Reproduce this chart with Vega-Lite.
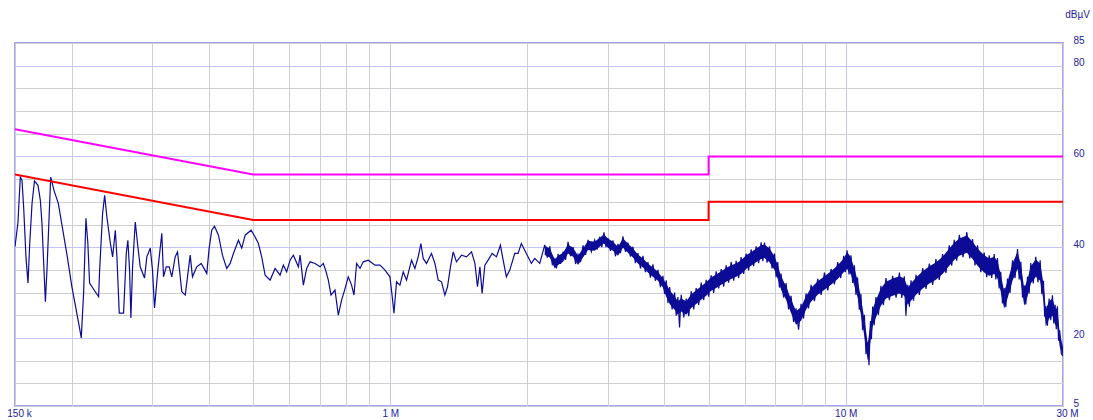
{
"$schema": "https://vega.github.io/schema/vega-lite/v6.json",
"width": 1048, "height": 363,
"autosize": {"type": "none"},
"padding": {"left": 15, "top": 43, "right": 30, "bottom": 14},
"background": "white",
"config": {"view": {"stroke": "#a0a0f8", "strokeWidth": 2}, "font": "Liberation Sans"},
"datasets": {
"limits": [
{"lim":"QP","i":1,"f":0.15,"v":66},{"lim":"QP","i":2,"f":0.5,"v":56},{"lim":"QP","i":3,"f":5,"v":56},{"lim":"QP","i":4,"f":5,"v":60},{"lim":"QP","i":5,"f":30,"v":60},
{"lim":"AV","i":1,"f":0.15,"v":56},{"lim":"AV","i":2,"f":0.5,"v":46},{"lim":"AV","i":3,"f":5,"v":46},{"lim":"AV","i":4,"f":5,"v":50},{"lim":"AV","i":5,"f":30,"v":50}
],
"band": [
{"f":2.184,"lo":38.3,"hi":40.3},{"f":2.24,"lo":37.7,"hi":39.7},{"f":2.298,"lo":35.3,"hi":37.3},{"f":2.336,"lo":36.1,"hi":38.1},{"f":2.396,"lo":36.8,"hi":38.8},{"f":2.457,"lo":38.6,"hi":40.6},{"f":2.52,"lo":37.9,"hi":39.9},{"f":2.584,"lo":36.1,"hi":38.1},{"f":2.65,"lo":37.7,"hi":39.7},{"f":2.718,"lo":39.4,"hi":41.4},
{"f":2.811,"lo":39.2,"hi":41.2},{"f":2.883,"lo":40.1,"hi":42.1},{"f":2.946,"lo":40.8,"hi":42.8},{"f":3.006,"lo":39.9,"hi":41.9},{"f":3.083,"lo":39.2,"hi":41.2},{"f":3.162,"lo":38.1,"hi":40.1},{"f":3.243,"lo":39.9,"hi":41.9},{"f":3.326,"lo":38.8,"hi":40.8},{"f":3.411,"lo":37.7,"hi":39.7},{"f":3.498,"lo":36.4,"hi":38.4},
{"f":3.588,"lo":35.5,"hi":37.5},{"f":3.679,"lo":34.4,"hi":36.4},{"f":3.773,"lo":33.5,"hi":35.5},{"f":3.87,"lo":32.6,"hi":34.6},{"f":3.969,"lo":31.1,"hi":33.1},{"f":4.036,"lo":29.1,"hi":32.0},{"f":4.106,"lo":27.5,"hi":30.5},{"f":4.211,"lo":26.2,"hi":29.2},{"f":4.281,"lo":25.1,"hi":28.1},{"f":4.353,"lo":25.8,"hi":28.7},
{"f":4.466,"lo":25.1,"hi":28.1},{"f":4.579,"lo":26.6,"hi":29.6},{"f":4.696,"lo":27.5,"hi":30.5},{"f":4.816,"lo":28.4,"hi":31.4},{"f":4.94,"lo":29.3,"hi":32.3},{"f":5.066,"lo":30.4,"hi":33.4},{"f":5.195,"lo":31.0,"hi":34.0},{"f":5.328,"lo":31.7,"hi":34.7},{"f":5.464,"lo":32.4,"hi":35.4},{"f":5.604,"lo":33.0,"hi":36.0},
{"f":5.747,"lo":33.5,"hi":36.4},{"f":5.893,"lo":34.1,"hi":37.1},{"f":6.044,"lo":35.2,"hi":38.2},{"f":6.199,"lo":35.9,"hi":38.9},{"f":6.358,"lo":36.7,"hi":39.7},{"f":6.521,"lo":37.4,"hi":40.4},{"f":6.634,"lo":37.6,"hi":40.6},{"f":6.803,"lo":36.7,"hi":39.7},{"f":6.977,"lo":35.0,"hi":38.0},{"f":7.093,"lo":33.0,"hi":36.0},
{"f":7.213,"lo":30.6,"hi":33.6},{"f":7.397,"lo":28.4,"hi":31.4},{"f":7.586,"lo":25.5,"hi":28.5},{"f":7.78,"lo":22.9,"hi":25.9},{"f":7.98,"lo":23.8,"hi":26.8},{"f":8.183,"lo":26.2,"hi":29.2},{"f":8.393,"lo":28.0,"hi":31.0},{"f":8.682,"lo":29.5,"hi":32.5},{"f":8.981,"lo":30.6,"hi":33.6},{"f":9.286,"lo":31.7,"hi":34.7},
{"f":9.605,"lo":33.0,"hi":36.0},{"f":9.901,"lo":34.5,"hi":37.5},{"f":10.07,"lo":35.2,"hi":39.0},{"f":10.27,"lo":33.9,"hi":37.7},{"f":10.45,"lo":31.5,"hi":35.3},{"f":10.62,"lo":28.9,"hi":32.7},{"f":10.8,"lo":25.1,"hi":28.9},{"f":10.99,"lo":20.3,"hi":24.1},{"f":11.18,"lo":15.0,"hi":18.8},{"f":11.33,"lo":19.2,"hi":23.0},
{"f":11.46,"lo":22.5,"hi":26.3},{"f":11.65,"lo":24.5,"hi":28.3},{"f":11.95,"lo":27.1,"hi":30.9},{"f":12.26,"lo":28.7,"hi":32.4},{"f":12.68,"lo":29.3,"hi":33.1},{"f":13.12,"lo":29.8,"hi":33.6},{"f":13.45,"lo":29.3,"hi":33.1},{"f":13.68,"lo":27.3,"hi":31.1},{"f":13.91,"lo":28.2,"hi":32.0},{"f":14.27,"lo":29.5,"hi":33.3},
{"f":14.76,"lo":30.9,"hi":34.7},{"f":15.26,"lo":32.0,"hi":35.8},{"f":15.78,"lo":32.8,"hi":36.6},{"f":16.32,"lo":34.1,"hi":37.9},{"f":16.88,"lo":35.9,"hi":39.7},{"f":17.31,"lo":37.2,"hi":41.0},{"f":17.76,"lo":38.1,"hi":41.9},{"f":18.45,"lo":38.8,"hi":42.6},{"f":18.99,"lo":37.4,"hi":41.2},{"f":19.47,"lo":35.9,"hi":39.7},
{"f":20.14,"lo":34.4,"hi":38.2},{"f":20.66,"lo":33.7,"hi":37.5},{"f":21.19,"lo":34.1,"hi":37.9},{"f":21.54,"lo":33.1,"hi":36.9},{"f":21.9,"lo":30.2,"hi":34.0},{"f":22.28,"lo":26.5,"hi":30.3},{"f":22.66,"lo":28.7,"hi":32.4},{"f":23.24,"lo":32.6,"hi":36.4},{"f":23.84,"lo":35.2,"hi":39.0},{"f":24.24,"lo":32.4,"hi":36.2},
{"f":24.66,"lo":27.1,"hi":30.9},{"f":25.07,"lo":29.1,"hi":32.9},{"f":25.49,"lo":32.0,"hi":35.8},{"f":26.14,"lo":33.5,"hi":37.3},{"f":26.73,"lo":32.6,"hi":36.4},{"f":27.18,"lo":28.2,"hi":32.0},{"f":27.5,"lo":22.5,"hi":26.3},{"f":27.97,"lo":24.3,"hi":28.1},{"f":28.44,"lo":24.9,"hi":28.7},{"f":28.83,"lo":22.9,"hi":26.7},
{"f":29.16,"lo":22.5,"hi":26.3},{"f":29.5,"lo":18.1,"hi":21.1},{"f":30.0,"lo":16.0,"hi":18.0}
],
"trace": [
{"f":0.15,"v":40.1},{"f":0.1523,"v":45.56},{"f":0.1528,"v":48.57},{"f":0.1541,"v":55.45},{"f":0.1554,"v":54.73},{"f":0.1567,"v":48.86},{"f":0.1586,"v":37.58},{"f":0.1602,"v":32.09},{"f":0.1616,"v":40.88},{"f":0.1635,"v":49.67},
{"f":0.1655,"v":54.57},{"f":0.1685,"v":53.63},{"f":0.1705,"v":50.33},{"f":0.1719,"v":45.27},{"f":0.1749,"v":27.98},{"f":0.1763,"v":34.95},{"f":0.178,"v":45.27},{"f":0.1797,"v":55.45},{"f":0.1827,"v":52.53},{"f":0.1867,"v":49.67},
{"f":0.1905,"v":44.46},{"f":0.1954,"v":37.87},{"f":0.2,"v":31.27},{"f":0.2069,"v":23.3},{"f":0.2097,"v":20.0},{"f":0.2122,"v":29.89},{"f":0.2132,"v":36.48},{"f":0.2147,"v":46.37},{"f":0.2168,"v":40.88},{"f":0.2187,"v":32.09},
{"f":0.2289,"v":29.08},{"f":0.2301,"v":34.95},{"f":0.2336,"v":47.47},{"f":0.236,"v":51.43},{"f":0.2387,"v":46.66},{"f":0.2429,"v":40.88},{"f":0.2457,"v":37.87},{"f":0.2491,"v":43.74},{"f":0.2511,"v":37.87},{"f":0.2541,"v":25.49},
{"f":0.2597,"v":25.49},{"f":0.2633,"v":38.68},{"f":0.2654,"v":41.54},{"f":0.2677,"v":34.95},{"f":0.2695,"v":24.4},{"f":0.2718,"v":35.67},{"f":0.2755,"v":45.56},{"f":0.2792,"v":40.07},{"f":0.2825,"v":35.67},{"f":0.2887,"v":33.19},
{"f":0.2921,"v":37.87},{"f":0.2972,"v":39.78},{"f":0.3006,"v":34.95},{"f":0.3037,"v":26.59},{"f":0.3088,"v":34.95},{"f":0.3151,"v":43.08},{"f":0.3178,"v":33.47},{"f":0.3222,"v":35.67},{"f":0.3271,"v":35.67},{"f":0.3314,"v":33.47},
{"f":0.3371,"v":37.87},{"f":0.3411,"v":38.97},{"f":0.3446,"v":34.95},{"f":0.3486,"v":30.18},{"f":0.3547,"v":29.45},{"f":0.3588,"v":33.47},{"f":0.3637,"v":38.24},{"f":0.3679,"v":33.47},{"f":0.376,"v":35.67},{"f":0.3845,"v":36.42},
{"f":0.3955,"v":34.22},{"f":0.4003,"v":39.78},{"f":0.4056,"v":43.74},{"f":0.4112,"v":44.62},{"f":0.4196,"v":42.64},{"f":0.4281,"v":38.24},{"f":0.4375,"v":35.32},{"f":0.4452,"v":36.42},{"f":0.4526,"v":38.62},{"f":0.4642,"v":41.54},
{"f":0.472,"v":39.78},{"f":0.4802,"v":42.64},{"f":0.4949,"v":43.74},{"f":0.505,"v":42.26},{"f":0.5135,"v":40.81},{"f":0.5221,"v":37.87},{"f":0.5312,"v":33.85},{"f":0.5448,"v":32.75},{"f":0.5587,"v":35.32},{"f":0.5729,"v":33.85},
{"f":0.5825,"v":36.04},{"f":0.5923,"v":34.57},{"f":0.6026,"v":37.14},{"f":0.6127,"v":38.24},{"f":0.6285,"v":35.67},{"f":0.6339,"v":38.24},{"f":0.6446,"v":31.65},{"f":0.6553,"v":35.32},{"f":0.6667,"v":36.77},{"f":0.6838,"v":36.42},
{"f":0.7012,"v":35.67},{"f":0.7129,"v":36.42},{"f":0.7213,"v":34.95},{"f":0.7312,"v":32.75},{"f":0.7412,"v":29.45},{"f":0.7563,"v":30.55},{"f":0.769,"v":25.05},{"f":0.7819,"v":28.35},{"f":0.794,"v":30.55},{"f":0.8088,"v":33.47},
{"f":0.8225,"v":31.65},{"f":0.8325,"v":29.45},{"f":0.8435,"v":36.42},{"f":0.8582,"v":35.32},{"f":0.8725,"v":36.77},{"f":0.8949,"v":37.14},{"f":0.9257,"v":36.04},{"f":0.9494,"v":36.04},{"f":0.9737,"v":34.95},{"f":0.9985,"v":33.47},
{"f":1.0101,"v":29.08},{"f":1.0189,"v":25.43},{"f":1.0323,"v":32.37},{"f":1.0502,"v":31.65},{"f":1.0678,"v":34.57},{"f":1.0858,"v":32.75},{"f":1.1136,"v":37.14},{"f":1.1328,"v":35.32},{"f":1.1518,"v":37.87},{"f":1.1677,"v":40.81},
{"f":1.1812,"v":37.52},{"f":1.2011,"v":36.42},{"f":1.2318,"v":38.62},{"f":1.2534,"v":36.42},{"f":1.2744,"v":32.75},{"f":1.2958,"v":32.37},{"f":1.3182,"v":29.45},{"f":1.3357,"v":31.27},{"f":1.3559,"v":35.67},{"f":1.3746,"v":38.97},
{"f":1.3976,"v":36.77},{"f":1.4339,"v":38.24},{"f":1.4705,"v":37.87},{"f":1.5081,"v":38.97},{"f":1.5342,"v":36.42},{"f":1.5544,"v":31.27},{"f":1.5735,"v":35.67},{"f":1.5913,"v":29.82},{"f":1.6132,"v":36.04},{"f":1.6403,"v":37.14},
{"f":1.6739,"v":38.62},{"f":1.7107,"v":37.87},{"f":1.7454,"v":40.44},{"f":1.7697,"v":37.14},{"f":1.7988,"v":33.47},{"f":1.8299,"v":34.95},{"f":1.8767,"v":38.62},{"f":1.9082,"v":38.62},{"f":1.9402,"v":40.81},{"f":1.99,"v":38.62},
{"f":2.0409,"v":36.42},{"f":2.0762,"v":37.52},{"f":2.1293,"v":36.42},
{"f":2.184,"v":40.5},{"f":2.212,"v":37.7},{"f":2.24,"v":40.2},{"f":2.269,"v":36.2},{"f":2.298,"v":37.4},{"f":2.317,"v":35.3},{"f":2.336,"v":38.5},{"f":2.366,"v":36.3},{"f":2.396,"v":39.0},{"f":2.426,"v":37.2},
{"f":2.457,"v":41.2},{"f":2.488,"v":38.0},{"f":2.52,"v":40.0},{"f":2.552,"v":36.3},{"f":2.584,"v":38.4},{"f":2.617,"v":36.7},{"f":2.65,"v":40.4},{"f":2.684,"v":38.3},{"f":2.718,"v":41.6},{"f":2.764,"v":39.0},
{"f":2.811,"v":41.6},{"f":2.847,"v":39.5},{"f":2.883,"v":42.3},{"f":2.914,"v":40.0},{"f":2.946,"v":43.3},{"f":2.976,"v":40.0},{"f":3.006,"v":42.0},{"f":3.044,"v":39.2},{"f":3.083,"v":41.5},{"f":3.122,"v":38.0},
{"f":3.162,"v":40.7},{"f":3.202,"v":38.7},{"f":3.243,"v":42.4},{"f":3.284,"v":39.0},{"f":3.326,"v":41.0},{"f":3.368,"v":37.9},{"f":3.411,"v":40.1},{"f":3.454,"v":36.5},{"f":3.498,"v":38.7},{"f":3.543,"v":35.3},
{"f":3.588,"v":38.1},{"f":3.633,"v":34.5},{"f":3.679,"v":36.7},{"f":3.726,"v":33.3},{"f":3.773,"v":36.2},{"f":3.821,"v":32.6},{"f":3.87,"v":35.0},{"f":3.919,"v":31.2},{"f":3.969,"v":33.7},{"f":4.002,"v":29.7},
{"f":4.036,"v":32.7},{"f":4.071,"v":27.7},{"f":4.106,"v":31.2},{"f":4.158,"v":26.3},{"f":4.211,"v":30.0},{"f":4.246,"v":24.9},{"f":4.281,"v":29.0},{"f":4.317,"v":22.3},{"f":4.353,"v":29.5},{"f":4.41,"v":24.5},
{"f":4.466,"v":28.7},{"f":4.523,"v":24.8},{"f":4.579,"v":30.3},{"f":4.638,"v":26.3},{"f":4.696,"v":31.0},{"f":4.756,"v":27.3},{"f":4.816,"v":32.2},{"f":4.878,"v":28.3},{"f":4.94,"v":32.8},{"f":5.003,"v":29.1},
{"f":5.066,"v":33.8},{"f":5.13,"v":29.9},{"f":5.195,"v":34.7},{"f":5.262,"v":30.9},{"f":5.328,"v":35.2},{"f":5.396,"v":31.3},{"f":5.464,"v":36.0},{"f":5.534,"v":32.2},{"f":5.604,"v":36.8},{"f":5.676,"v":32.6},
{"f":5.747,"v":37.0},{"f":5.82,"v":33.2},{"f":5.893,"v":37.8},{"f":5.969,"v":34.1},{"f":6.044,"v":38.6},{"f":6.122,"v":34.9},{"f":6.199,"v":39.5},{"f":6.279,"v":35.8},{"f":6.358,"v":40.2},{"f":6.44,"v":36.5},
{"f":6.521,"v":41.1},{"f":6.578,"v":36.9},{"f":6.634,"v":41.0},{"f":6.719,"v":36.6},{"f":6.803,"v":40.2},{"f":6.89,"v":35.3},{"f":6.977,"v":38.6},{"f":7.035,"v":33.4},{"f":7.093,"v":36.7},{"f":7.153,"v":31.1},
{"f":7.213,"v":34.2},{"f":7.305,"v":28.9},{"f":7.397,"v":32.1},{"f":7.492,"v":26.3},{"f":7.586,"v":29.3},{"f":7.683,"v":23.5},{"f":7.78,"v":26.5},{"f":7.88,"v":21.8},{"f":7.98,"v":27.5},{"f":8.082,"v":24.3},
{"f":8.183,"v":29.8},{"f":8.288,"v":26.5},{"f":8.393,"v":31.7},{"f":8.538,"v":28.1},{"f":8.682,"v":33.0},{"f":8.832,"v":29.5},{"f":8.981,"v":34.4},{"f":9.134,"v":30.5},{"f":9.286,"v":35.2},{"f":9.446,"v":31.8},
{"f":9.605,"v":36.7},{"f":9.753,"v":33.2},{"f":9.901,"v":38.1},{"f":9.985,"v":34.5},{"f":10.07,"v":39.3},{"f":10.17,"v":34.0},{"f":10.27,"v":38.2},{"f":10.36,"v":32.1},{"f":10.45,"v":36.0},{"f":10.53,"v":29.5},
{"f":10.62,"v":33.3},{"f":10.71,"v":26.2},{"f":10.8,"v":29.7},{"f":10.89,"v":21.7},{"f":10.99,"v":25.1},{"f":11.08,"v":16.4},{"f":11.18,"v":19.1},{"f":11.25,"v":14.0},{"f":11.33,"v":23.7},{"f":11.39,"v":19.7},
{"f":11.46,"v":26.9},{"f":11.55,"v":22.8},{"f":11.65,"v":29.0},{"f":11.8,"v":25.1},{"f":11.95,"v":31.5},{"f":12.1,"v":27.2},{"f":12.26,"v":33.2},{"f":12.47,"v":28.3},{"f":12.68,"v":33.7},{"f":12.9,"v":28.9},
{"f":13.12,"v":34.4},{"f":13.28,"v":28.8},{"f":13.45,"v":33.6},{"f":13.56,"v":24.9},{"f":13.68,"v":31.7},{"f":13.8,"v":26.9},{"f":13.91,"v":32.7},{"f":14.09,"v":28.2},{"f":14.27,"v":33.9},{"f":14.51,"v":29.5},
{"f":14.76,"v":35.4},{"f":15.01,"v":30.8},{"f":15.26,"v":36.4},{"f":15.52,"v":31.7},{"f":15.78,"v":37.4},{"f":16.05,"v":32.8},{"f":16.32,"v":38.5},{"f":16.6,"v":34.3},{"f":16.88,"v":40.4},{"f":17.09,"v":35.9},
{"f":17.31,"v":41.6},{"f":17.53,"v":37.0},{"f":17.76,"v":42.7},{"f":18.1,"v":37.8},{"f":18.45,"v":43.3},{"f":18.72,"v":37.5},{"f":18.99,"v":41.8},{"f":19.23,"v":36.0},{"f":19.47,"v":40.4},{"f":19.8,"v":34.5},
{"f":20.14,"v":38.8},{"f":20.4,"v":33.4},{"f":20.66,"v":38.2},{"f":20.92,"v":33.2},{"f":21.19,"v":38.5},{"f":21.36,"v":32.9},{"f":21.54,"v":37.6},{"f":21.72,"v":30.9},{"f":21.9,"v":34.6},{"f":22.09,"v":27.6},
{"f":22.28,"v":31.0},{"f":22.47,"v":26.8},{"f":22.66,"v":33.1},{"f":22.95,"v":29.9},{"f":23.24,"v":37.1},{"f":23.54,"v":33.2},{"f":23.84,"v":39.6},{"f":24.04,"v":32.9},{"f":24.24,"v":36.8},{"f":24.45,"v":28.9},
{"f":24.66,"v":31.6},{"f":24.86,"v":27.4},{"f":25.07,"v":33.5},{"f":25.28,"v":29.8},{"f":25.49,"v":36.5},{"f":25.81,"v":32.0},{"f":26.14,"v":37.9},{"f":26.43,"v":32.3},{"f":26.73,"v":37.1},{"f":26.95,"v":29.7},
{"f":27.18,"v":32.6},{"f":27.34,"v":24.7},{"f":27.5,"v":27.0},{"f":27.73,"v":22.7},{"f":27.97,"v":28.7},{"f":28.2,"v":23.9},{"f":28.44,"v":29.4},{"f":28.63,"v":23.2},{"f":28.83,"v":27.3},{"f":29.0,"v":21.9},
{"f":29.16,"v":27.0},{"f":29.33,"v":19.4},{"f":29.5,"v":21.7},{"f":29.75,"v":16.5},{"f":30.0,"v":16.0}
]
},
"layer": [
{
"data": {"name": "band"},
"mark": {"type": "area", "color": "#0c0c96", "opacity": 1, "clip": true},
"encoding": {
"x": {"field": "f", "type": "quantitative", "scale": {"type": "log", "domain": [0.15, 30], "nice": false},
 "axis": {"orient": "bottom", "values": [0.15,0.2,0.3,0.4,0.5,0.6,0.7,0.8,0.9,1,2,3,4,5,6,7,8,9,10,20,30], "tickCount": 100,
  "labelExpr": "datum.value == 0.15 ? '150 k' : datum.value == 1 ? '1 M' : datum.value == 10 ? '10 M' : datum.value == 30 ? '30 M' : ''",
  "ticks": false, "domain": false, "grid": true,
  "gridColor": {"condition": {"test": "datum.value == 1 || datum.value == 10", "value": "#c4c4f6"}, "value": "#cfcfcf"},
  "gridWidth": 1, "labelFontSize": 10, "labelColor": "#1c1ca0", "labelPadding": 2, "labelFlush": false, "labelOverlap": false,
  "labelOffset": {"condition": {"test": "datum.value == 0.15 || datum.value == 30", "value": 4}, "value": 0},
  "title": null}},
"y": {"field": "lo", "type": "quantitative", "scale": {"domain": [5, 85], "nice": false, "zero": false},
 "axis": {"orient": "right", "values": [5,10,15,20,25,30,35,40,45,50,55,60,65,70,75,80,85], "tickCount": 100,
  "labelExpr": "indexof([5,20,40,60,80,85], datum.value) >= 0 ? datum.label : ''",
  "ticks": false, "domain": false, "grid": true,
  "gridColor": {"condition": {"test": "datum.value % 20 == 0", "value": "#c4c4f6"}, "value": "#cfcfcf"},
  "gridWidth": 1, "labelFontSize": 10, "labelColor": "#1c1ca0", "labelPadding": 10, "labelBaseline": "alphabetic",
  "labelFlush": false, "labelOverlap": false,
  "title": "dBµV", "titleAngle": 0, "titleX": 14, "titleY": -29, "titleAlign": "center", "titleBaseline": "middle",
  "titleFontSize": 10, "titleFontWeight": "normal", "titleColor": "#1c1ca0"}},
"y2": {"field": "hi"}
}
},
{
"data": {"name": "trace"},
"mark": {"type": "line", "color": "#0c0c96", "strokeWidth": 1.2, "clip": true},
"encoding": {
"x": {"field": "f", "type": "quantitative"},
"y": {"field": "v", "type": "quantitative"}
}
},
{
"data": {"name": "limits"},
"mark": {"type": "line", "strokeWidth": 2, "clip": true},
"encoding": {
"x": {"field": "f", "type": "quantitative"},
"y": {"field": "v", "type": "quantitative"},
"color": {"field": "lim", "type": "nominal", "scale": {"domain": ["QP", "AV"], "range": ["#ff00ff", "#ff0000"]}, "legend": null},
"order": {"field": "i", "type": "quantitative"}
}
}
]
}
